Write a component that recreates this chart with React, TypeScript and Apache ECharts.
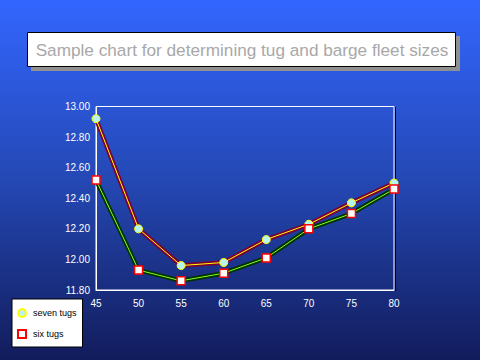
import React, { useEffect, useRef } from "react";
import * as echarts from "echarts";

const categories = ["45", "50", "55", "60", "65", "70", "75", "80"];
const sevenTugs = [12.92, 12.2, 11.96, 11.98, 12.13, 12.23, 12.37, 12.5];
const sixTugs = [12.52, 11.93, 11.86, 11.91, 12.01, 12.2, 12.3, 12.46];
const yMin = 11.8;
const yMax = 13.0;
const yInterval = 0.2;
const titleText = "Sample chart for determining tug and barge fleet sizes";

export default function App() {
  const ref = useRef<HTMLDivElement>(null);
  useEffect(() => {
    if (!ref.current) return;
    const chart = echarts.init(ref.current, null, { renderer: "svg" });
    chart.setOption({
      animation: false,
      backgroundColor: new echarts.graphic.LinearGradient(0, 0, 0, 1, [
        { offset: 0, color: "#3366ff" },
        { offset: 0.5, color: "#2448b4" },
        { offset: 1, color: "#121c5c" },
      ]),
      graphic: [
        { type: "rect", shape: { x: 31, y: 36, width: 429, height: 35 }, style: { fill: "#909090" }, z: 1 },
        { type: "rect", shape: { x: 27.5, y: 32.5, width: 428, height: 34 }, style: { fill: "#ffffff", stroke: "#000000", lineWidth: 1 }, z: 2 },
        {
          type: "text",
          x: 242,
          y: 50,
          z: 3,
          style: {
            text: titleText,
            fill: "#a8a8a8",
            font: "17.2px Arial, 'Liberation Sans', sans-serif",
            textAlign: "center",
            textVerticalAlign: "middle",
          },
        },
        { type: "line", shape: { x1: 395.5, y1: 107, x2: 395.5, y2: 291 }, style: { stroke: "#000000", lineWidth: 1 }, z: 1 },
      ],
      grid: {
        left: 96,
        right: 86,
        top: 106.5,
        bottom: 70,
        show: true,
        borderColor: "#ffffff",
        borderWidth: 1,
        backgroundColor: "transparent",
      },
      legend: {
        orient: "vertical",
        left: 12,
        top: 299,
        data: ["seven tugs", "six tugs"],
        backgroundColor: "#ffffff",
        borderColor: "#000000",
        borderWidth: 1,
        borderRadius: 0,
        padding: [8, 6, 7, 5],
        itemWidth: 8,
        itemHeight: 8,
        itemGap: 9,
        textStyle: {
          fontSize: 9,
          lineHeight: 12,
          color: "#000000",
          fontFamily: "Arial, 'Liberation Sans', sans-serif",
          padding: [0, 0, 0, 2],
        },
      },
      xAxis: {
        type: "category",
        data: categories,
        boundaryGap: false,
        axisLine: { show: true, lineStyle: { color: "#ffffff" } },
        axisTick: { show: false },
        axisLabel: {
          color: "#ffffff",
          fontSize: 10,
          margin: 8,
          fontFamily: "Arial, 'Liberation Sans', sans-serif",
        },
        splitLine: { show: false },
      },
      yAxis: {
        type: "value",
        min: yMin,
        max: yMax,
        interval: yInterval,
        axisLine: { show: true, lineStyle: { color: "#ffffff" } },
        axisTick: { show: false },
        axisLabel: {
          color: "#ffffff",
          fontSize: 10,
          margin: 6,
          fontFamily: "Arial, 'Liberation Sans', sans-serif",
          formatter: (v: number) => v.toFixed(2),
        },
        splitLine: { show: false },
      },
      series: [
        {
          name: "six tugs line",
          type: "line",
          data: sixTugs,
          symbol: "none",
          z: 2,
          silent: true,
          lineStyle: { color: "#003300", width: 4.5 },
        },
        {
          name: "six tugs hi",
          type: "line",
          data: sixTugs,
          symbol: "none",
          z: 3,
          silent: true,
          lineStyle: { color: "#88ff22", width: 1 },
        },
        {
          name: "seven tugs line",
          type: "line",
          data: sevenTugs,
          symbol: "none",
          z: 2,
          silent: true,
          lineStyle: { color: "#7a0038", width: 4.5 },
        },
        {
          name: "seven tugs hi",
          type: "line",
          data: sevenTugs,
          symbol: "none",
          z: 3,
          silent: true,
          lineStyle: { color: "#ffff00", width: 1 },
        },
        {
          name: "seven tugs",
          type: "scatter",
          data: sevenTugs,
          symbol: "circle",
          symbolSize: 8,
          z: 4,
          itemStyle: { color: "#b8f4f0", borderColor: "#ffff00", borderWidth: 1, opacity: 1 },
        },
        {
          name: "six tugs",
          type: "scatter",
          data: sixTugs,
          symbol: "rect",
          symbolSize: 8,
          z: 4,
          itemStyle: { color: "#ffffff", borderColor: "#ff0000", borderWidth: 1.5, opacity: 1 },
        },
      ],
    });
    return () => chart.dispose();
  }, []);
  return (
    <div
      ref={ref}
      style={{ position: "fixed", left: 0, top: 0, width: 480, height: 360 }}
    />
  );
}
